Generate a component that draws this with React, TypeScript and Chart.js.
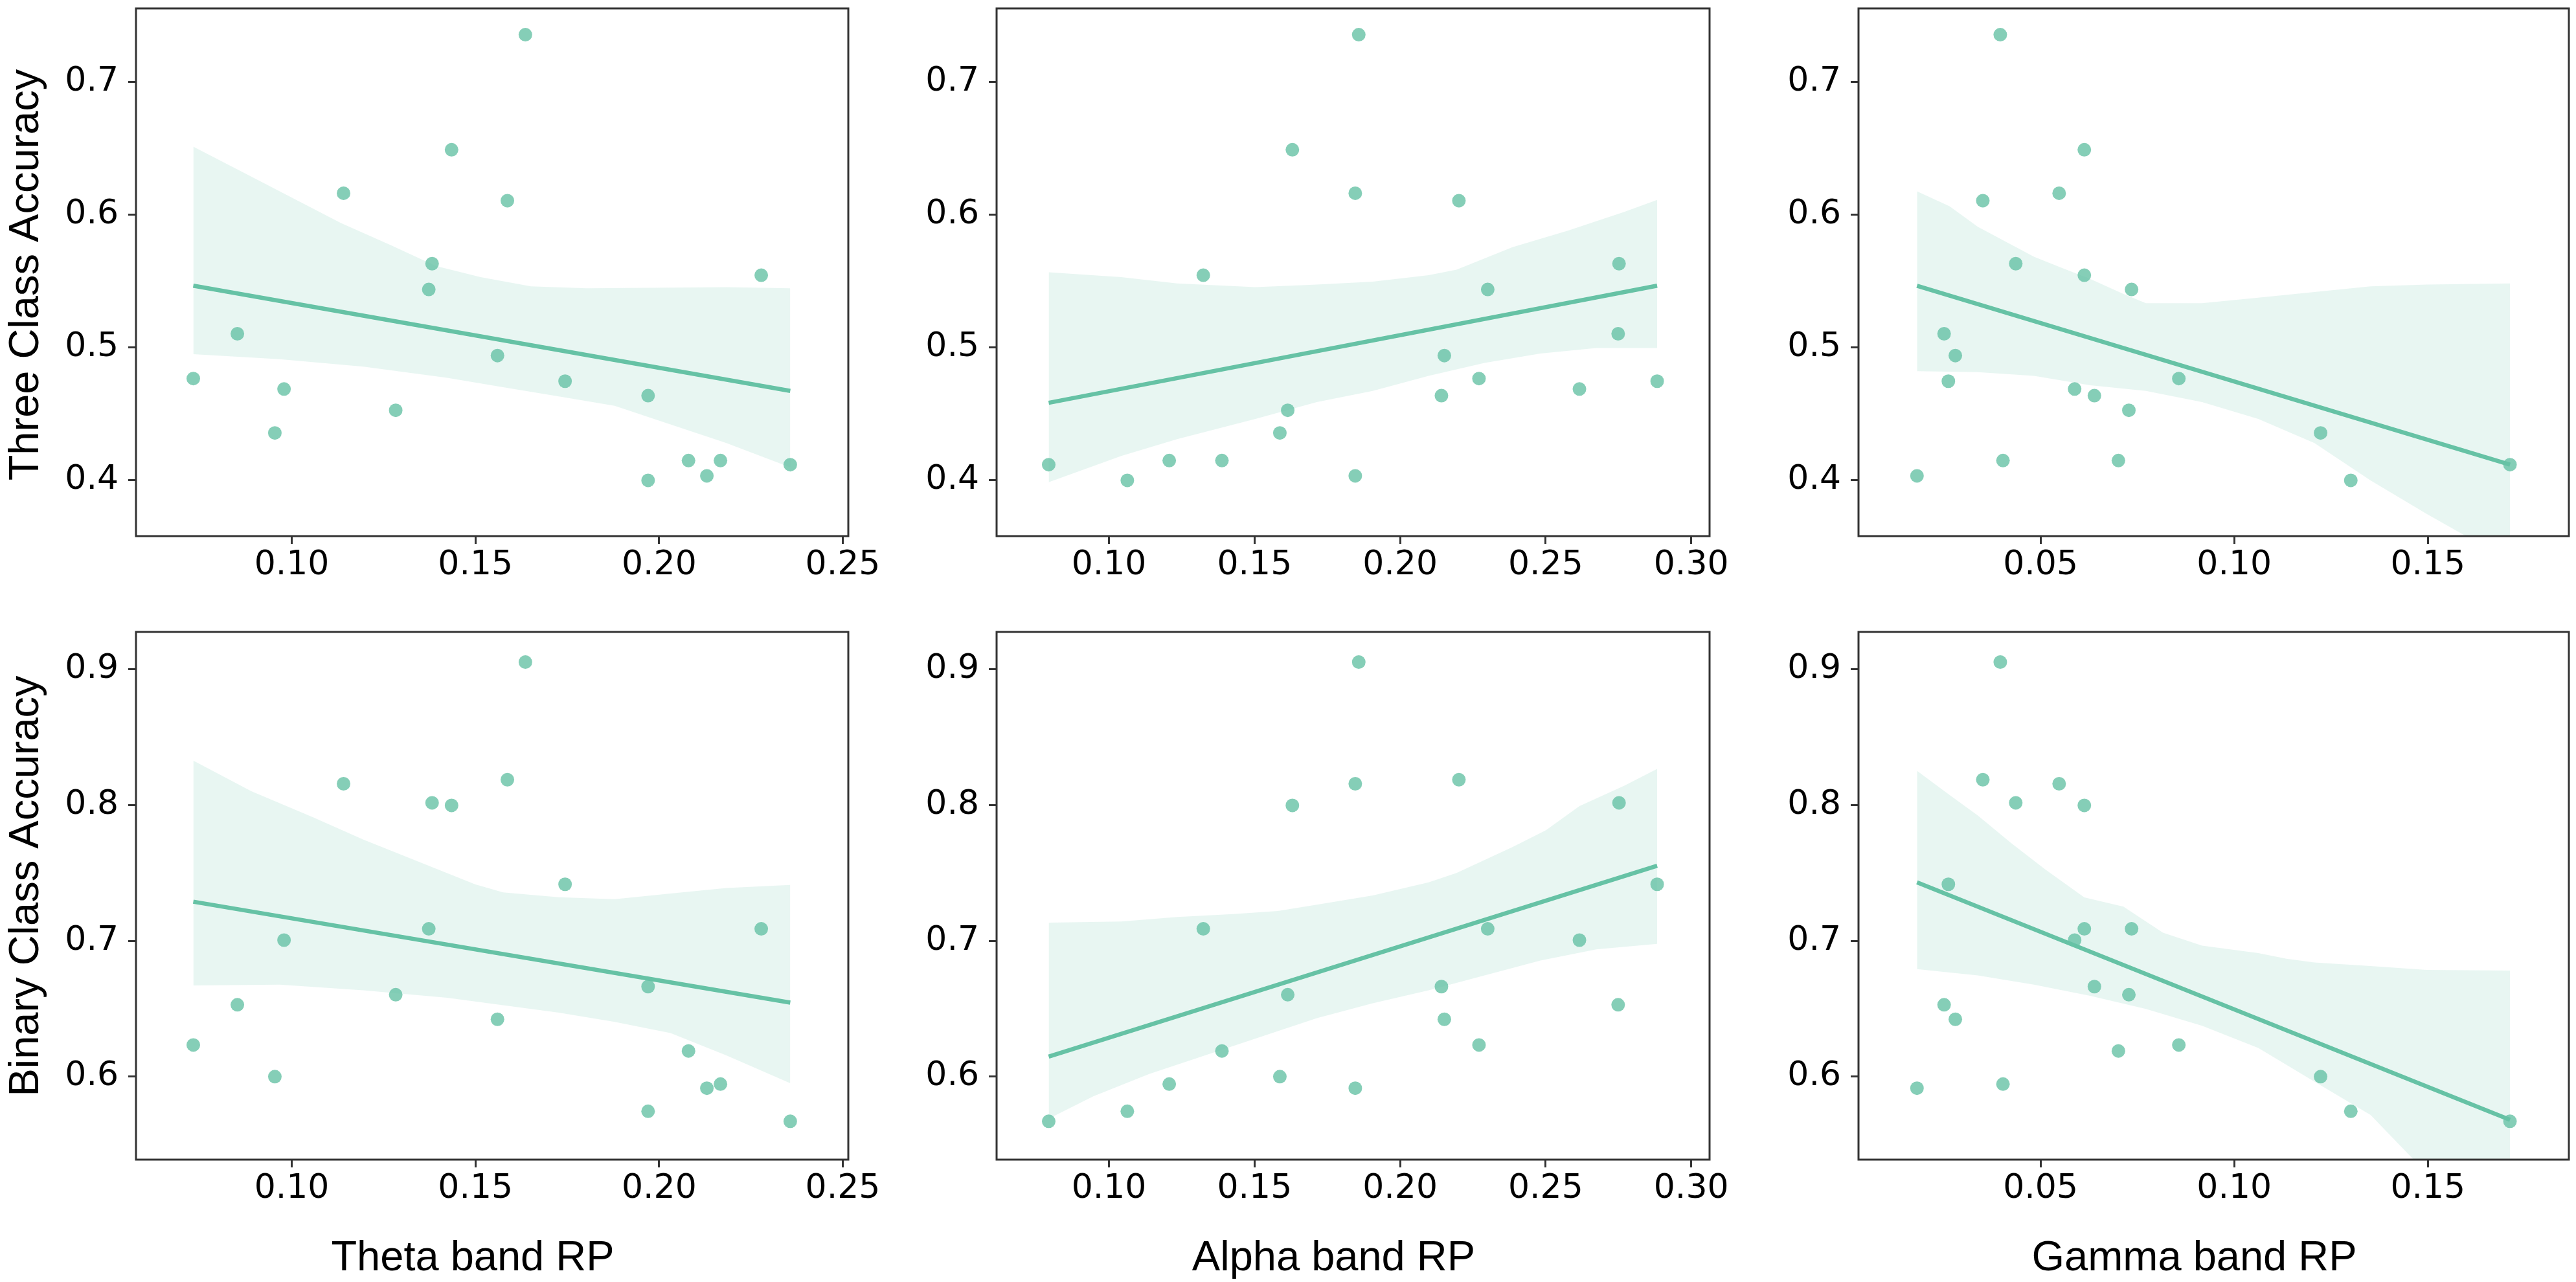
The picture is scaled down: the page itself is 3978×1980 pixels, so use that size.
import React, { useEffect, useRef } from "react";
import Chart from "chart.js/auto";

// per-subject band power (x) and accuracies (y), subjects in the same order everywhere
const thetaRP = [0.1636, 0.1435, 0.1141, 0.1587, 0.1382, 0.1373, 0.2278, 0.0852, 0.156, 0.0732, 0.0979, 0.1744, 0.197, 0.1283, 0.0954, 0.208, 0.2167, 0.213, 0.197, 0.2357];
const alphaRP = [0.1858, 0.163, 0.1846, 0.2202, 0.2752, 0.2301, 0.1324, 0.2749, 0.2152, 0.2271, 0.2616, 0.2883, 0.2142, 0.1614, 0.1587, 0.1388, 0.1207, 0.1846, 0.1063, 0.0793];
const gammaRP = [0.0396, 0.0613, 0.0548, 0.0351, 0.0436, 0.0735, 0.0613, 0.0251, 0.028, 0.0857, 0.0588, 0.0262, 0.0639, 0.0728, 0.1223, 0.0701, 0.0403, 0.0181, 0.1301, 0.1712];
const threeClassAcc = [0.7357, 0.649, 0.6163, 0.6107, 0.5632, 0.5438, 0.5545, 0.5104, 0.494, 0.4767, 0.4688, 0.4747, 0.4638, 0.4528, 0.4357, 0.4149, 0.4149, 0.4034, 0.4, 0.4118];
const binaryClassAcc = [0.9052, 0.7997, 0.8156, 0.8186, 0.8016, 0.7088, 0.7088, 0.6529, 0.6422, 0.6233, 0.7005, 0.7416, 0.6663, 0.6603, 0.6, 0.6189, 0.5945, 0.5915, 0.5745, 0.5671];

// fitted lines (end points)
const thetaThreeFitX = [0.0732, 0.2357];
const thetaThreeFitY = [0.5466, 0.4674];
const alphaThreeFitX = [0.0793, 0.2883];
const alphaThreeFitY = [0.4584, 0.5466];
const gammaThreeFitX = [0.0181, 0.1712];
const gammaThreeFitY = [0.5466, 0.4118];
const thetaBinFitX = [0.0732, 0.2357];
const thetaBinFitY = [0.7288, 0.6545];
const alphaBinFitX = [0.0793, 0.2883];
const alphaBinFitY = [0.6148, 0.7553];
const gammaBinFitX = [0.0181, 0.1712];
const gammaBinFitY = [0.743, 0.5682];

// confidence bands, upper and lower edges
const thetaThreeUpX = [0.0732, 0.086, 0.0997, 0.1134, 0.1271, 0.1392, 0.1514, 0.1651, 0.1803, 0.2031, 0.2183, 0.2357];
const thetaThreeUp = [0.6514, 0.6331, 0.6135, 0.5938, 0.577, 0.5615, 0.5531, 0.5461, 0.5447, 0.5452, 0.5455, 0.5447];
const thetaThreeLoX = [0.0732, 0.0967, 0.1195, 0.1423, 0.1575, 0.1727, 0.1879, 0.2031, 0.2183, 0.2357];
const thetaThreeLo = [0.495, 0.4913, 0.4857, 0.4772, 0.4702, 0.4632, 0.4562, 0.4421, 0.4281, 0.4098];

const alphaThreeUpX = [0.0793, 0.1042, 0.1234, 0.1503, 0.1714, 0.1906, 0.2098, 0.2194, 0.2386, 0.2578, 0.277, 0.2883];
const alphaThreeUp = [0.5567, 0.5531, 0.5483, 0.5455, 0.5475, 0.5497, 0.5545, 0.5587, 0.5756, 0.5882, 0.6022, 0.6112];
const alphaThreeLoX = [0.0793, 0.1042, 0.1234, 0.1503, 0.1714, 0.1906, 0.2098, 0.229, 0.2482, 0.2674, 0.2883];
const alphaThreeLo = [0.3986, 0.4183, 0.431, 0.4463, 0.459, 0.4674, 0.4787, 0.4885, 0.4955, 0.4997, 0.4997];

const gammaThreeUpX = [0.0181, 0.0265, 0.0338, 0.041, 0.0483, 0.0555, 0.0628, 0.0714, 0.0772, 0.0917, 0.1062, 0.1207, 0.1352, 0.1497, 0.1712];
const gammaThreeUp = [0.6177, 0.6065, 0.591, 0.5798, 0.5685, 0.5601, 0.5517, 0.5404, 0.5334, 0.5334, 0.5376, 0.5419, 0.5461, 0.5475, 0.5483];
const gammaThreeLoX = [0.0181, 0.0338, 0.0483, 0.0628, 0.0772, 0.0917, 0.1062, 0.1207, 0.1352, 0.1497, 0.1599, 0.1712];
const gammaThreeLo = [0.4823, 0.4815, 0.4787, 0.4716, 0.4674, 0.459, 0.4463, 0.4281, 0.4, 0.3747, 0.3579, 0.335];

const thetaBinUpX = [0.0732, 0.089, 0.1058, 0.1195, 0.1347, 0.1499, 0.1575, 0.1727, 0.1879, 0.2031, 0.2183, 0.2357];
const thetaBinUp = [0.8326, 0.8101, 0.791, 0.7745, 0.7581, 0.7416, 0.7356, 0.7321, 0.7307, 0.7348, 0.7389, 0.7411];
const thetaBinLoX = [0.0732, 0.0967, 0.1195, 0.1423, 0.1575, 0.1727, 0.1879, 0.2031, 0.2183, 0.2357];
const thetaBinLo = [0.6671, 0.6677, 0.6636, 0.6581, 0.6526, 0.6471, 0.6403, 0.6321, 0.6156, 0.5951];

const alphaBinUpX = [0.0793, 0.1042, 0.1234, 0.1426, 0.158, 0.1714, 0.1906, 0.2098, 0.2194, 0.2386, 0.2501, 0.2616, 0.277, 0.2883];
const alphaBinUp = [0.7134, 0.7142, 0.7175, 0.7197, 0.7219, 0.7266, 0.7334, 0.743, 0.7499, 0.769, 0.7814, 0.7992, 0.8142, 0.8266];
const alphaBinLoX = [0.0793, 0.0946, 0.1138, 0.133, 0.1522, 0.1714, 0.1906, 0.2098, 0.229, 0.2482, 0.2674, 0.2883];
const alphaBinLo = [0.569, 0.5855, 0.6019, 0.6156, 0.6293, 0.643, 0.654, 0.6636, 0.6745, 0.6855, 0.6937, 0.6978];

const gammaBinUpX = [0.0181, 0.0265, 0.0338, 0.0425, 0.0512, 0.0613, 0.0714, 0.0816, 0.0917, 0.1062, 0.1135, 0.1207, 0.1352, 0.1497, 0.1712];
const gammaBinUp = [0.8252, 0.8074, 0.7923, 0.7718, 0.7526, 0.732, 0.7252, 0.706, 0.6964, 0.691, 0.6868, 0.6841, 0.6814, 0.6786, 0.6781];
const gammaBinLoX = [0.0181, 0.0338, 0.0483, 0.0628, 0.0772, 0.0917, 0.1062, 0.1207, 0.1352, 0.1454, 0.1712];
const gammaBinLo = [0.6792, 0.6745, 0.6677, 0.6595, 0.6499, 0.6375, 0.6211, 0.5964, 0.5718, 0.5416, 0.47];

// tick labels
const thetaTicks = [0.1, 0.15, 0.2, 0.25];
const alphaTicks = [0.1, 0.15, 0.2, 0.25, 0.3];
const gammaTicks = [0.05, 0.1, 0.15];
const threeTicks = [0.4, 0.5, 0.6, 0.7];
const binTicks = [0.6, 0.7, 0.8, 0.9];

const GREEN = "#66c2a5";
const FRAME = "#333333";
const TITLE_FONT = "65px 'Liberation Sans', Arial, sans-serif";

const pts = (xs: number[], ys: number[]) => xs.map((x, i) => ({ x, y: ys[i] }));

// box around the plot area plus the axis titles (placed like matplotlib did)
const framePlugin = {
  id: "frame",
  afterDatasetsDraw(chart: any) {
    const { ctx, chartArea } = chart;
    ctx.save();
    ctx.strokeStyle = FRAME;
    ctx.lineWidth = 3;
    ctx.strokeRect(chartArea.left, chartArea.top, chartArea.right - chartArea.left, chartArea.bottom - chartArea.top);
    ctx.restore();
  },
  afterDraw(chart: any, _args: any, opts: any) {
    const { ctx, chartArea } = chart;
    ctx.save();
    ctx.fillStyle = "#000";
    ctx.font = TITLE_FONT;
    ctx.textBaseline = "alphabetic";
    ctx.textAlign = "center";
    if (opts.xTitle) {
      ctx.fillText(opts.xTitle, (chartArea.left + chartArea.right) / 2 - 30, chartArea.bottom + 171);
    }
    if (opts.yTitle) {
      ctx.translate(chartArea.left - 151, (chartArea.top + chartArea.bottom) / 2 + (opts.yShift || 0));
      ctx.rotate(-Math.PI / 2);
      ctx.fillText(opts.yTitle, 0, 0);
    }
    ctx.restore();
  },
};

interface PanelProps {
  left: number;
  top: number;
  plotW: number;
  plotH: number;
  xs: number[];
  ys: number[];
  fitX: number[];
  fitY: number[];
  upX: number[];
  up: number[];
  loX: number[];
  lo: number[];
  xMin: number;
  xMax: number;
  yMin: number;
  yMax: number;
  xTicks: number[];
  yTicks: number[];
  xTitle?: string;
  yTitle?: string;
  yShift?: number;
}

const Y_W = 210;
const PAD_TOP = 13;
const PAD_RIGHT = 70;

function Panel(p: PanelProps) {
  const ref = useRef<HTMLCanvasElement>(null);
  const xH = 120;
  const extra = p.xTitle ? 69 : 0;
  const width = Y_W + p.plotW + PAD_RIGHT;
  const height = PAD_TOP + p.plotH + xH + extra;

  useEffect(() => {
    if (!ref.current) return;
    const tickFont = { family: "'DejaVu Sans', sans-serif", size: 52 };
    const grid = {
      drawOnChartArea: false,
      drawTicks: true,
      tickLength: 12,
      tickWidth: 3,
      tickColor: FRAME,
      color: FRAME,
    };
    const chart = new Chart(ref.current, {
      type: "line",
      data: {
        datasets: [
          {
            label: "fit",
            data: pts(p.fitX, p.fitY),
            borderColor: GREEN,
            borderWidth: 6.5,
            pointRadius: 0,
            fill: false,
            order: 0,
          },
          {
            label: "ci upper",
            data: pts(p.upX, p.up),
            borderWidth: 0,
            borderColor: "rgba(0,0,0,0)",
            backgroundColor: "rgba(102,194,165,0.15)",
            pointRadius: 0,
            fill: "+1",
            order: 1,
          },
          {
            label: "ci lower",
            data: pts(p.loX, p.lo),
            borderWidth: 0,
            borderColor: "rgba(0,0,0,0)",
            pointRadius: 0,
            fill: false,
            order: 1,
          },
          {
            label: "subjects",
            data: pts(p.xs, p.ys),
            showLine: false,
            pointRadius: 10.5,
            pointBorderWidth: 0,
            pointBackgroundColor: "rgba(102,194,165,0.8)",
            pointBorderColor: "rgba(0,0,0,0)",
            order: 3,
          },
        ],
      },
      options: {
        animation: false,
        responsive: false,
        devicePixelRatio: 1,
        layout: { padding: { top: PAD_TOP, right: PAD_RIGHT, left: 0, bottom: extra } },
        plugins: {
          legend: { display: false },
          tooltip: { enabled: false },
          frame: { xTitle: p.xTitle, yTitle: p.yTitle, yShift: p.yShift },
        },
        scales: {
          x: {
            type: "linear",
            min: p.xMin,
            max: p.xMax,
            afterBuildTicks: (s: any) => {
              s.ticks = p.xTicks.map((v) => ({ value: v }));
            },
            afterFit: (s: any) => {
              s.height = xH;
              s.paddingLeft = 0;
              s.paddingRight = 0;
            },
            ticks: {
              font: tickFont,
              color: "#000",
              padding: 2,
              maxRotation: 0,
              autoSkip: false,
              callback: (v: any) => Number(v).toFixed(2),
            },
            grid,
            border: { display: false },
          },
          y: {
            type: "linear",
            min: p.yMin,
            max: p.yMax,
            afterBuildTicks: (s: any) => {
              s.ticks = p.yTicks.map((v) => ({ value: v }));
            },
            afterFit: (s: any) => {
              s.width = Y_W;
              s.paddingTop = 0;
              s.paddingBottom = 0;
            },
            ticks: {
              font: tickFont,
              color: "#000",
              padding: 15,
              autoSkip: false,
              callback: (v: any) => Number(v).toFixed(1),
            },
            grid,
            border: { display: false },
          },
        },
      },
      plugins: [framePlugin],
    } as any);
    return () => chart.destroy();
  }, []);

  return (
    <canvas
      ref={ref}
      width={width}
      height={height}
      style={{ position: "absolute", left: p.left - Y_W, top: p.top - PAD_TOP, width, height }}
    />
  );
}

const colLeft = [210, 1539, 2870];
const colW = [1100, 1101, 1097];
const rowTop = [13, 976];
const rowH = 815;

export default function App() {
  const three = { ys: threeClassAcc, yMin: 0.358, yMax: 0.7555, yTicks: threeTicks };
  const bin = { ys: binaryClassAcc, yMin: 0.5389, yMax: 0.9274, yTicks: binTicks };
  const theta = { xs: thetaRP, xMin: 0.0576, xMax: 0.2515, xTicks: thetaTicks };
  const alpha = { xs: alphaRP, xMin: 0.0614, xMax: 0.3063, xTicks: alphaTicks };
  const gamma = { xs: gammaRP, xMin: 0.003, xMax: 0.1864, xTicks: gammaTicks };

  return (
    <div style={{ position: "absolute", left: 0, top: 0, width: 3978, height: 1980, background: "#fff", overflow: "hidden" }}>
      <Panel left={colLeft[0]} top={rowTop[0]} plotW={colW[0]} plotH={rowH} {...theta} {...three}
        fitX={thetaThreeFitX} fitY={thetaThreeFitY} upX={thetaThreeUpX} up={thetaThreeUp} loX={thetaThreeLoX} lo={thetaThreeLo}
        yTitle="Three Class Accuracy" yShift={4} />
      <Panel left={colLeft[1]} top={rowTop[0]} plotW={colW[1]} plotH={rowH} {...alpha} {...three}
        fitX={alphaThreeFitX} fitY={alphaThreeFitY} upX={alphaThreeUpX} up={alphaThreeUp} loX={alphaThreeLoX} lo={alphaThreeLo} />
      <Panel left={colLeft[2]} top={rowTop[0]} plotW={colW[2]} plotH={rowH} {...gamma} {...three}
        fitX={gammaThreeFitX} fitY={gammaThreeFitY} upX={gammaThreeUpX} up={gammaThreeUp} loX={gammaThreeLoX} lo={gammaThreeLo} />
      <Panel left={colLeft[0]} top={rowTop[1]} plotW={colW[0]} plotH={rowH} {...theta} {...bin}
        fitX={thetaBinFitX} fitY={thetaBinFitY} upX={thetaBinUpX} up={thetaBinUp} loX={thetaBinLoX} lo={thetaBinLo}
        yTitle="Binary Class Accuracy" yShift={-15} xTitle="Theta band RP" />
      <Panel left={colLeft[1]} top={rowTop[1]} plotW={colW[1]} plotH={rowH} {...alpha} {...bin}
        fitX={alphaBinFitX} fitY={alphaBinFitY} upX={alphaBinUpX} up={alphaBinUp} loX={alphaBinLoX} lo={alphaBinLo}
        xTitle="Alpha band RP" />
      <Panel left={colLeft[2]} top={rowTop[1]} plotW={colW[2]} plotH={rowH} {...gamma} {...bin}
        fitX={gammaBinFitX} fitY={gammaBinFitY} upX={gammaBinUpX} up={gammaBinUp} loX={gammaBinLoX} lo={gammaBinLo}
        xTitle="Gamma band RP" />
    </div>
  );
}
